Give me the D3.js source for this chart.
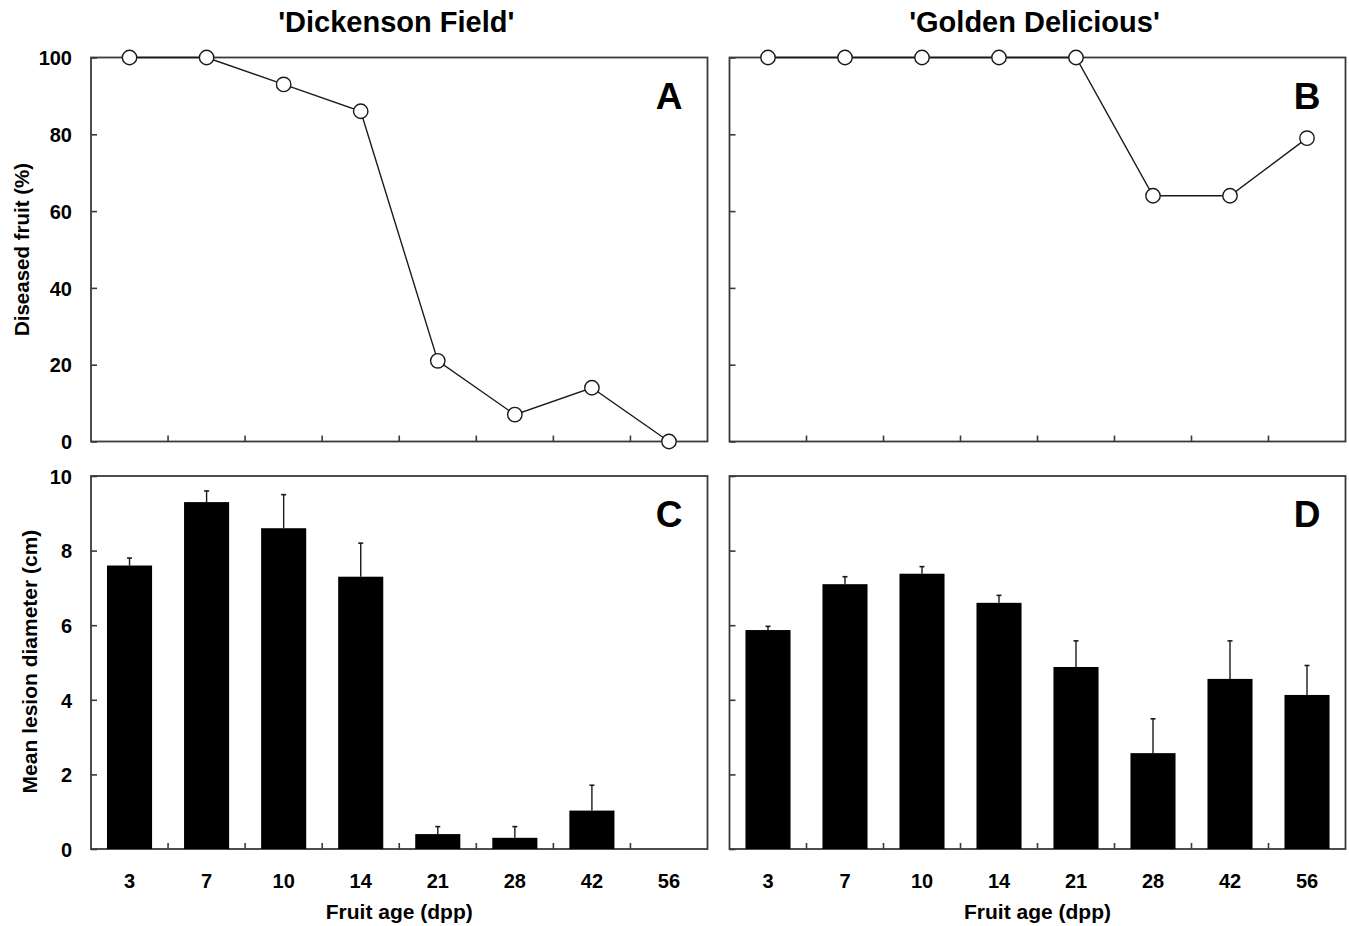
<!DOCTYPE html>
<html>
<head>
<meta charset="utf-8">
<script src="https://cdn.jsdelivr.net/npm/d3@7"></script>
<style>
  html, body { margin: 0; padding: 0; background: #fff; }
  svg { display: block; }
  text { font-family: "Liberation Sans", Arial, sans-serif; font-weight: bold; fill: #000; }
</style>
</head>
<body>
<svg id="chart" width="1349" height="926"></svg>
<script>
// ---------- data ----------
const categories = ["3", "7", "10", "14", "21", "28", "42", "56"];
const diseasedDickenson = [100, 100, 93, 86, 21, 7, 14, 0];
const diseasedGolden = [100, 100, 100, 100, 100, 64, 64, 79];
const lesionDickenson = [7.6, 9.3, 8.6, 7.3, 0.4, 0.3, 1.03, 0];
const lesionDickensonErr = [0.2, 0.3, 0.9, 0.9, 0.2, 0.3, 0.68, null];
const lesionGolden = [5.87, 7.1, 7.38, 6.6, 4.88, 2.57, 4.56, 4.13];
const lesionGoldenErr = [0.1, 0.2, 0.19, 0.2, 0.7, 0.92, 1.02, 0.79];
const cultivarTitles = ["'Dickenson Field'", "'Golden Delicious'"];
const panelLetters = ["A", "B", "C", "D"];
const diseasedTicks = [0, 20, 40, 60, 80, 100];
const lesionTicks = [0, 2, 4, 6, 8, 10];
const yTitleTop = "Diseased fruit (%)";
const yTitleBottom = "Mean lesion diameter (cm)";
const xTitle = "Fruit age (dpp)";

// ---------- layout ----------
const svg = d3.select("#chart");
const cols = [{ x0: 91, x1: 707.5 }, { x0: 729.5, x1: 1345.5 }];
const rows = [{ y0: 57.5, y1: 441.5 }, { y0: 476, y1: 849 }];
const frameColor = "#3a3a3a";
const tickLen = 6;

const yTop = d3.scaleLinear().domain([0, 100]).range([rows[0].y1, rows[0].y0]);
const yBot = d3.scaleLinear().domain([0, 10]).range([rows[1].y1, rows[1].y0]);

function xBand(col) {
  return d3.scaleBand().domain(categories).range([cols[col].x0, cols[col].x1]).paddingInner(0).paddingOuter(0);
}
function xBars(col) {
  return d3.scaleBand().domain(categories).range([cols[col].x0, cols[col].x1]).paddingInner(0.415).paddingOuter(0.2075);
}

function frame(col, row, y, yticks, showYLabels, showXLabels) {
  const g = svg.append("g");
  const xb = xBand(col);
  const { x0, x1 } = cols[col];
  const { y0, y1 } = rows[row];
  // y axis (inward ticks) via d3.axisRight at left edge
  const yAxis = d3.axisRight(y).tickValues(yticks).tickSize(tickLen).tickFormat("");
  const ya = g.append("g").attr("transform", `translate(${x0},0)`).call(yAxis);
  ya.select(".domain").remove();
  ya.selectAll("line").attr("stroke", frameColor).attr("stroke-width", 1.6);
  if (showYLabels) {
    const yl = d3.axisLeft(y).tickValues(yticks).tickSize(0).tickPadding(19).tickFormat(d3.format("d"));
    const yg = g.append("g").attr("transform", `translate(${x0},0)`).call(yl);
    yg.select(".domain").remove();
    yg.selectAll("text").style("font-size", "20px").style("font-family", "'Liberation Sans', Arial, sans-serif").style("font-weight", "bold").attr("dy", "0.36em");
  }
  // x axis: ticks at band boundaries, inward
  const bounds = categories.slice(1).map(c => xb(c));
  g.append("g").selectAll("line").data(bounds).join("line")
    .attr("x1", d => d).attr("x2", d => d)
    .attr("y1", y1).attr("y2", y1 - tickLen)
    .attr("stroke", frameColor).attr("stroke-width", 1.6);
  if (showXLabels) {
    g.append("g").selectAll("text").data(categories).join("text")
      .attr("x", d => xb(d) + xb.bandwidth() / 2)
      .attr("y", 888)
      .attr("text-anchor", "middle")
      .style("font-size", "20px")
      .text(d => d);
    g.append("text")
      .attr("x", (x0 + x1) / 2)
      .attr("y", 919)
      .attr("text-anchor", "middle")
      .style("font-size", "21px")
      .text(xTitle);
  }
  // frame
  g.append("rect")
    .attr("x", x0).attr("y", y0).attr("width", x1 - x0).attr("height", y1 - y0)
    .attr("fill", "none").attr("stroke", frameColor).attr("stroke-width", 1.8);
  return g;
}

// titles
cultivarTitles.forEach((t, i) => {
  svg.append("text")
    .attr("x", (cols[i].x0 + cols[i].x1) / 2 - 3)
    .attr("y", 32)
    .attr("text-anchor", "middle")
    .style("font-size", "29px")
    .text(t);
});

// axis titles
svg.append("text")
  .attr("transform", `translate(29,${(rows[0].y0 + rows[0].y1) / 2}) rotate(-90)`)
  .attr("text-anchor", "middle")
  .style("font-size", "20.5px")
  .text(yTitleTop);
svg.append("text")
  .attr("transform", `translate(37,${(rows[1].y0 + rows[1].y1) / 2 - 1}) rotate(-90)`)
  .attr("text-anchor", "middle")
  .style("font-size", "21px")
  .text(yTitleBottom);

// ---------- top panels (lines) ----------
[diseasedDickenson, diseasedGolden].forEach((vals, col) => {
  const g = frame(col, 0, yTop, diseasedTicks, col === 0, false);
  const xb = xBand(col);
  const pts = categories.map((c, i) => ({ c, v: vals[i] }));
  const line = d3.line().x(d => xb(d.c) + xb.bandwidth() / 2).y(d => yTop(d.v));
  svg.append("path").datum(pts)
    .attr("d", line).attr("fill", "none").attr("stroke", "#1a1a1a").attr("stroke-width", 1.4);
  svg.append("g").selectAll("circle").data(pts).join("circle")
    .attr("cx", d => xb(d.c) + xb.bandwidth() / 2)
    .attr("cy", d => yTop(d.v))
    .attr("r", 7.2)
    .attr("fill", "#fff").attr("stroke", "#1a1a1a").attr("stroke-width", 1.4);
});

// ---------- bottom panels (bars) ----------
[[lesionDickenson, lesionDickensonErr], [lesionGolden, lesionGoldenErr]].forEach(([vals, errs], col) => {
  const g = frame(col, 1, yBot, lesionTicks, col === 0, true);
  const xb = xBars(col);
  const data = categories.map((c, i) => ({ c, v: vals[i], e: errs[i] }));
  // error bars (drawn first so bar covers lower part)
  const eb = svg.append("g");
  data.filter(d => d.e != null && d.v > 0).forEach(d => {
    const cx = xb(d.c) + xb.bandwidth() / 2;
    eb.append("line").attr("x1", cx).attr("x2", cx)
      .attr("y1", yBot(d.v)).attr("y2", yBot(d.v + d.e))
      .attr("stroke", "#1a1a1a").attr("stroke-width", 1.4);
    eb.append("line").attr("x1", cx - 2.5).attr("x2", cx + 2.5)
      .attr("y1", yBot(d.v + d.e)).attr("y2", yBot(d.v + d.e))
      .attr("stroke", "#1a1a1a").attr("stroke-width", 1.6);
  });
  svg.append("g").selectAll("rect").data(data.filter(d => d.v > 0)).join("rect")
    .attr("x", d => xb(d.c))
    .attr("width", xb.bandwidth())
    .attr("y", d => yBot(d.v))
    .attr("height", d => yBot(0) - yBot(d.v))
    .attr("fill", "#000");
});

// panel letters
const letterPos = [[0, 0], [1, 0], [0, 1], [1, 1]];
panelLetters.forEach((L, i) => {
  const [col, row] = letterPos[i];
  svg.append("text")
    .attr("x", cols[col].x1 - 25)
    .attr("y", rows[row].y0 + 51)
    .attr("text-anchor", "end")
    .style("font-size", "37px")
    .text(L);
});
</script>
</body>
</html>
